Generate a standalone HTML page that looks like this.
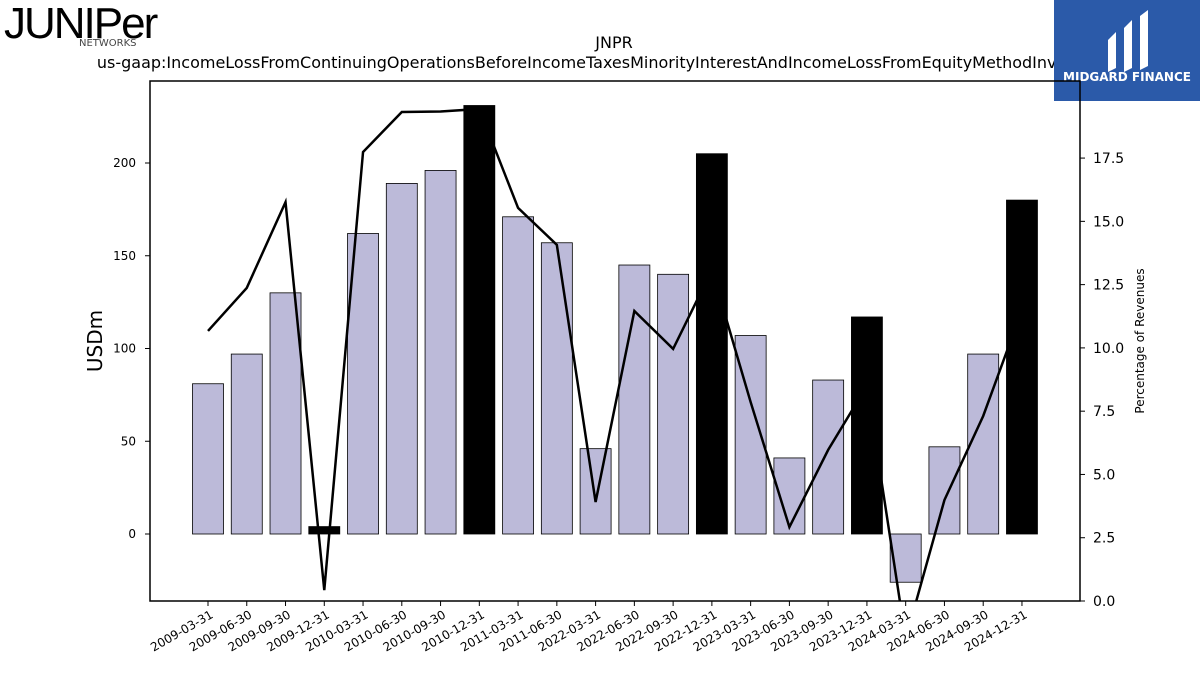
<!DOCTYPE html>
<html><head><meta charset="utf-8">
<style>
body{margin:0;background:#fff;width:1200px;height:675px;overflow:hidden;font-family:"DejaVu Sans","Liberation Sans",sans-serif;}
svg{position:absolute;left:0;top:0}
</style></head>
<body>
<svg id="c" width="1200" height="675">
  <text x="614" y="48" font-size="16" text-anchor="middle">JNPR</text>
  <text x="614" y="68" font-size="16" text-anchor="middle">us-gaap:IncomeLossFromContinuingOperationsBeforeIncomeTaxesMinorityInterestAndIncomeLossFromEquityMethodInvestments</text>
  <g>
    <text x="4" y="38" font-size="44" font-family="Liberation Sans,sans-serif" letter-spacing="-2" font-weight="300">JUNIPer</text>
    <text x="79" y="46" font-size="10" fill="#444">NETWORKS</text>
  </g>
  <g>
    <rect x="1054" y="0" width="146" height="101" fill="#2b5aa9"/>
    <path d="M1108 40 l8 -8 v36 l-8 4z M1124 28 l8 -8 v48 l-8 4z M1140 16 l8 -6 v56 l-8 4z" fill="#fff"/>
    <text x="1127" y="81" font-size="12" font-weight="bold" fill="#fff" text-anchor="middle">MIDGARD FINANCE</text>
  </g>
  <text transform="translate(102,341) rotate(-90)" font-size="20" text-anchor="middle">USDm</text>
  <text transform="translate(1144,341) rotate(-90)" font-size="12" text-anchor="middle">Percentage of Revenues</text>
  <defs><clipPath id="pc"><rect x="150" y="81" width="930" height="520"/></clipPath></defs>
  <g id="plot"></g>
  <rect x="150" y="81" width="930" height="520" fill="none" stroke="#000" stroke-width="1.5"/>
</svg>
<script>
const categories=["2009-03-31","2009-06-30","2009-09-30","2009-12-31","2010-03-31","2010-06-30","2010-09-30","2010-12-31","2011-03-31","2011-06-30","2022-03-31","2022-06-30","2022-09-30","2022-12-31","2023-03-31","2023-06-30","2023-09-30","2023-12-31","2024-03-31","2024-06-30","2024-09-30","2024-12-31"];
const incomeValues=[81,97,130,4,162,189,196,231,171,157,46,145,140,205,107,41,83,117,-26,47,97,180];
const pctValues=[10.67,12.37,15.76,0.43,17.74,19.32,19.34,19.44,15.53,14.07,3.91,11.46,9.96,13.08,7.86,2.92,5.97,8.5,-1.5,3.99,7.31,11.5];
const leftTicks=[0,50,100,150,200];
const rightTicks=[0,2.5,5,7.5,10,12.5,15,17.5];
const NS="http://www.w3.org/2000/svg";
const yL=v=>534-v*1.855;
const yR=v=>601-v*25.31;
const xC=i=>208+i*38.76;
const g=document.getElementById('plot');
function mk(t,a){const e=document.createElementNS(NS,t);for(const k in a)e.setAttribute(k,a[k]);return e;}
leftTicks.forEach(t=>{
  const y=yL(t);
  const l=mk('line',{x1:145,x2:150,y1:y,y2:y,stroke:'#000'});
  
  
  g.appendChild(l);
  const tx=mk('text',{x:136,y:y+4,'font-size':12,'text-anchor':'end'});
  tx.textContent=t;
  
  
  g.appendChild(tx);
});
rightTicks.forEach(t=>{
  const y=yR(t);
  const l=mk('line',{x1:1080,x2:1085,y1:y,y2:y,stroke:'#000'});
  
  
  g.appendChild(l);
  const tx=mk('text',{x:1093,y:y+5,'font-size':14});
  tx.textContent=t.toFixed(1);
  
  
  g.appendChild(tx);
});
function drawBar(i){
  const v=incomeValues[i];const black=categories[i].endsWith('12-31');
  const y0=yL(0),y1=yL(v);
  const r=mk('rect',{x:xC(i)-15.5,y:Math.min(y0,y1),width:31,height:Math.max(Math.abs(y0-y1),1),fill:black?'#000':'#bcbad9',stroke:'#000','stroke-width':0.8,'clip-path':'url(#pc)'});
  
  
  g.appendChild(r);
}
categories.forEach((c,i)=>{
  if(!c.endsWith('12-31'))drawBar(i);
  const x=xC(i);
  const l=mk('line',{x1:x,x2:x,y1:601,y2:606,stroke:'#000'});
  
  
  g.appendChild(l);
  const t=mk('text',{transform:`translate(${x+6},${617}) rotate(-30)`,'font-size':12,'text-anchor':'end'});
  t.textContent=c;
  
  
  g.appendChild(t);
});
const pl=mk('polyline',{points:pctValues.map((v,i)=>xC(i)+','+yR(v)).join(' '),fill:'none',stroke:'#000','stroke-width':2.5,'clip-path':'url(#pc)'});


g.appendChild(pl);
categories.forEach((c,i)=>{if(c.endsWith('12-31'))drawBar(i);});
</script>
</body></html>
